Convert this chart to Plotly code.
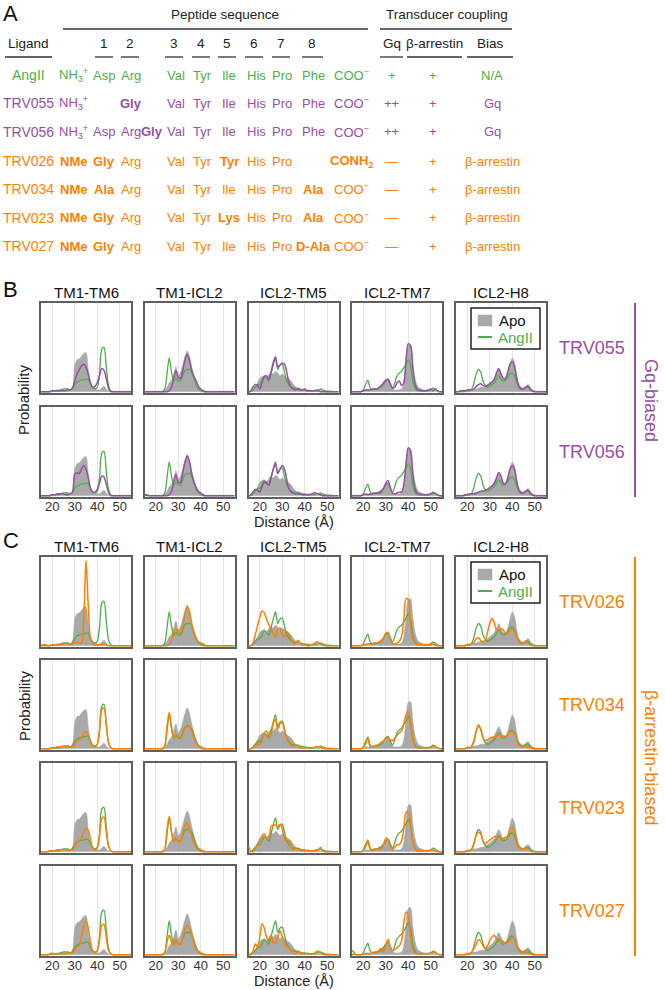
import plotly.graph_objects as go

# ---------------- data ----------------
DIST = list(range(15, 56))  # distance grid (Å)
COLUMNS = ["TM1-TM6", "TM1-ICL2", "ICL2-TM5", "ICL2-TM7", "ICL2-H8"]
TICKS = [20, 30, 40, 50]
B_LIGANDS = ["TRV055", "TRV056"]
C_LIGANDS = ["TRV026", "TRV034", "TRV023", "TRV027"]

# TM1-TM6
APO_TM1_TM6 = [0,0,0,0,1, 1,1,2,2,3, 1,2,2,2,5, 30,36,37,40,43, 44,25,10,5,3, 2,2,4,6,3, 1,0,0,0,0, 0,0,0,0,0, 0]
ANG_TM1_TM6 = [0,0,0,0,0, 1,1,1,1,2, 3,3,3,2,4, 8,11,12,13,13, 14,14,8,4,3, 5,20,48,50,28, 7,1,0,0,0, 0,0,0,0,0, 0]
T055_TM1_TM6 = [0,0,0,0,0, 1,1,1,1,1, 1,1,2,2,4, 12,20,25,29,31, 28,20,10,5,6, 10,18,26,24,15, 4,0,0,0,0, 0,0,0,0,0, 0]
T056_TM1_TM6 = [0,0,0,0,0, 1,1,2,2,2, 2,1,1,2,4, 24,26,25,30,34, 30,20,8,4,4, 7,14,22,21,13, 4,0,0,0,0, 0,0,0,0,0, 0]
T026_TM1_TM6 = [0,1,1,0,0, 1,1,1,1,1, 2,2,2,1,2, 3,4,3,3,30, 96,45,8,2,1, 1,1,1,2,1, 0,0,0,0,0, 0,0,0,0,0, 0]
T034_TM1_TM6 = [0,0,0,0,0, 1,1,2,2,2, 2,2,3,2,2, 3,9,10,13,17, 19,16,8,3,2, 5,20,44,46,27, 7,1,0,0,0, 0,0,0,0,0, 0]
T023_TM1_TM6 = [0,0,0,0,1, 1,1,2,2,2, 2,2,2,2,2, 6,11,12,16,22, 26,24,14,4,2, 4,18,37,39,23, 6,1,0,0,0, 0,0,0,0,0, 0]
T027_TM1_TM6 = [0,0,0,0,1, 2,1,1,1,1, 1,1,2,2,2, 5,9,10,20,33, 38,30,14,4,2, 4,16,33,34,20, 5,1,0,0,0, 0,0,0,0,0, 0]

# TM1-ICL2
APO_TM1_ICL2 = [0,0,0,0,0, 0,0,0,1,2, 5,10,13,20,28, 18,22,30,40,46, 40,28,18,10,5, 3,2,1,0,0, 0,0,0,0,0, 0,0,0,0,0, 0]
ANG_TM1_ICL2 = [0,0,0,0,0, 0,0,0,0,3, 20,38,22,12,15, 12,12,18,24,25, 25,22,15,7,3, 1,0,0,0,0, 0,0,0,0,0, 0,0,0,0,0, 0]
T055_TM1_ICL2 = [0,0,0,0,0, 0,0,0,0,0, 0,1,5,15,24, 16,15,24,36,42, 35,24,17,12,6, 3,1,0,0,0, 0,0,0,0,0, 0,0,0,0,0, 0]
T056_TM1_ICL2 = [1,1,0,0,0, 0,0,0,0,0, 0,1,5,15,24, 15,15,26,38,45, 38,24,15,9,5, 3,1,0,0,0, 0,0,0,0,0, 0,0,0,0,0, 0]
T026_TM1_ICL2 = [0,0,0,0,0, 0,0,0,0,0, 0,1,6,15,19, 15,14,22,35,44, 38,22,14,8,4, 3,2,0,0,0, 0,0,0,0,0, 0,0,0,0,0, 0]
T034_TM1_ICL2 = [0,0,0,0,0, 0,0,0,0,3, 25,41,25,13,15, 14,12,17,23,26, 25,20,12,6,3, 1,0,0,0,0, 0,0,0,0,0, 0,0,0,0,0, 0]
T023_TM1_ICL2 = [0,0,0,0,0, 0,0,0,0,3, 25,40,22,11,15, 11,12,20,30,32, 26,18,10,5,2, 1,0,0,0,0, 0,0,0,0,0, 0,0,0,0,0, 0]
T027_TM1_ICL2 = [0,0,0,0,0, 0,0,0,0,2, 14,22,15,11,17, 12,12,20,29,33, 30,22,13,6,3, 1,0,0,0,0, 0,0,0,0,0, 0,0,0,0,0, 0]

# ICL2-TM5
APO_ICL2_TM5 = [0,0,2,5,10, 15,17,18,16,19, 22,20,23,21,18, 20,18,16,14,12, 8,5,3,2,2, 2,2,2,1,1, 1,1,1,1,1, 1,1,1,0,0, 0]
ANG_ICL2_TM5 = [0,0,2,5,8, 8,12,17,15,12, 20,30,38,25,30, 31,22,12,8,5, 4,4,4,3,2, 2,1,1,1,1, 2,2,3,2,1, 0,0,0,0,0, 0]
T055_ICL2_TM5 = [0,1,5,8,7, 3,10,17,18,14, 22,33,39,28,30, 32,31,22,10,5, 3,2,3,2,2, 3,1,1,1,1, 1,1,0,0,0, 0,0,0,0,0, 0]
T056_ICL2_TM5 = [0,1,4,7,6, 4,10,15,14,12, 20,30,36,25,30, 34,30,18,8,4, 3,2,2,2,1, 1,1,1,2,3, 3,2,1,0,0, 0,0,0,0,0, 0]
T026_ICL2_TM5 = [0,0,3,12,22, 32,39,37,30,24, 18,14,10,18,20, 13,10,16,12,6, 2,3,6,3,1, 1,0,0,1,2, 4,4,2,1,0, 0,0,0,0,0, 0]
T034_ICL2_TM5 = [0,0,1,3,5, 5,10,18,20,13, 17,28,33,22,28, 30,20,12,7,4, 3,4,3,1,1, 1,1,1,1,1, 2,2,2,1,0, 0,0,0,0,0, 0]
T023_ICL2_TM5 = [6,1,0,3,8, 12,18,20,15,14, 28,30,30,28,31, 26,15,12,13,5, 2,4,2,1,1, 1,1,1,1,1, 1,2,5,1,0, 0,0,0,0,0, 0]
T027_ICL2_TM5 = [0,1,4,12,9, 20,35,30,20,16, 22,14,13,20,27, 20,12,10,7,4, 2,1,3,2,1, 1,1,1,1,1, 3,4,2,1,0, 0,0,0,0,0, 0]

# ICL2-TM7
APO_ICL2_TM7 = [0,0,0,0,0, 1,2,2,2,3, 3,3,5,7,9, 12,13,8,3,2, 2,2,3,10,33, 52,53,32,15,7, 4,3,2,2,2, 2,2,1,0,0, 0]
ANG_ICL2_TM7 = [0,0,0,0,0, 2,8,13,5,2, 3,3,4,5,8, 12,14,9,4,10, 18,21,23,27,31, 36,30,12,4,1, 1,1,1,1,1, 2,4,3,1,0, 0]
T055_ICL2_TM7 = [0,0,0,0,0, 1,2,2,2,3, 3,3,5,7,10, 13,14,9,4,5, 10,12,7,10,35, 54,52,28,9,3, 2,1,1,1,2, 3,1,3,1,0, 0]
T056_ICL2_TM7 = [0,0,0,0,0, 1,2,1,2,2, 3,3,3,4,8, 14,17,9,3,2, 3,4,4,12,36, 54,50,25,8,3, 2,1,1,1,1, 2,3,2,1,0, 0]
T026_ICL2_TM7 = [0,0,0,0,0, 1,1,2,2,2, 3,3,3,5,9, 14,15,8,2,2, 3,5,10,28,53, 52,25,8,3,2, 1,1,1,1,1, 1,2,1,0,0, 0]
T034_ICL2_TM7 = [0,0,0,0,0, 1,5,12,3,2, 3,4,5,7,9, 12,12,10,9,12, 15,18,20,28,38, 42,30,10,3,1, 1,1,1,1,1, 2,3,2,1,0, 0]
T023_ICL2_TM7 = [0,0,0,0,0, 1,5,12,3,1, 2,3,3,3,8, 15,14,6,3,5, 8,8,12,25,44, 45,33,12,3,1, 1,1,1,1,1, 2,2,1,0,0, 0]
T027_ICL2_TM7 = [5,2,0,0,0, 1,1,1,1,2, 2,3,5,7,3, 10,17,9,4,6, 8,10,15,35,48, 44,20,6,2,1, 1,1,1,1,1, 2,3,2,1,0, 0]

# ICL2-H8
APO_ICL2_H8 = [0,0,0,0,1, 2,2,3,3,3, 4,5,5,6,8, 10,12,15,20,25, 20,15,14,20,30, 38,33,18,8,5, 4,6,8,5,2, 1,0,0,0,0, 0]
ANG_ICL2_H8 = [0,0,0,0,0, 1,1,3,10,20, 25,22,12,7,5, 6,8,10,14,18, 14,12,13,16,20, 21,18,10,5,3, 3,5,5,2,1, 0,0,0,0,0, 0]
T055_ICL2_H8 = [0,0,1,1,1, 2,2,2,3,6, 8,9,7,6,7, 9,11,14,21,26, 20,15,15,22,31, 34,28,15,6,3, 3,5,6,3,1, 0,0,0,0,0, 0]
T056_ICL2_H8 = [0,0,0,0,1, 1,2,2,2,3, 4,5,5,6,7, 9,11,14,20,26, 22,14,14,20,30, 34,30,16,6,3, 3,5,6,3,1, 0,0,0,0,0, 0]
T026_ICL2_H8 = [0,0,0,0,0, 1,1,2,4,8, 9,6,4,6,15, 25,31,26,18,18, 19,18,14,14,18, 20,16,9,4,2, 3,5,3,1,0, 0,0,0,0,0, 0]
T034_ICL2_H8 = [0,0,0,0,0, 1,1,3,8,20, 27,22,12,9,10, 12,13,13,14,16, 14,14,14,16,19, 20,17,10,4,2, 2,3,2,1,0, 0,0,0,0,0, 0]
T023_ICL2_H8 = [0,0,0,0,0, 1,1,3,9,18, 22,20,12,9,11, 13,15,17,17,16, 15,15,16,18,25, 27,22,12,5,2, 3,4,3,1,0, 0,0,0,0,0, 0]
T027_ICL2_H8 = [0,0,0,0,0, 1,1,3,7,12, 17,15,10,7,10, 16,20,22,18,15, 16,15,13,14,17, 19,17,9,4,2, 2,3,2,1,0, 0,0,0,0,0, 0]

APO = [APO_TM1_TM6, APO_TM1_ICL2, APO_ICL2_TM5, APO_ICL2_TM7, APO_ICL2_H8]
ANGII = [ANG_TM1_TM6, ANG_TM1_ICL2, ANG_ICL2_TM5, ANG_ICL2_TM7, ANG_ICL2_H8]
LIGAND_SERIES = {
    "TRV055": [T055_TM1_TM6, T055_TM1_ICL2, T055_ICL2_TM5, T055_ICL2_TM7, T055_ICL2_H8],
    "TRV056": [T056_TM1_TM6, T056_TM1_ICL2, T056_ICL2_TM5, T056_ICL2_TM7, T056_ICL2_H8],
    "TRV026": [T026_TM1_TM6, T026_TM1_ICL2, T026_ICL2_TM5, T026_ICL2_TM7, T026_ICL2_H8],
    "TRV034": [T034_TM1_TM6, T034_TM1_ICL2, T034_ICL2_TM5, T034_ICL2_TM7, T034_ICL2_H8],
    "TRV023": [T023_TM1_TM6, T023_TM1_ICL2, T023_ICL2_TM5, T023_ICL2_TM7, T023_ICL2_H8],
    "TRV027": [T027_TM1_TM6, T027_TM1_ICL2, T027_ICL2_TM5, T027_ICL2_TM7, T027_ICL2_H8],
}
for s in APO + ANGII + [v for vv in LIGAND_SERIES.values() for v in vv]:
    assert len(s) == len(DIST)

# table (panel A)
T_LIGAND = ["AngII", "TRV055", "TRV056", "TRV026", "TRV034", "TRV023", "TRV027"]
T_NTERM = ["NH<sub>3</sub><sup>+</sup>"] * 3 + ["NMe"] * 4
T_P1 = ["Asp", "", "Asp", "Gly", "Ala", "Gly", "Gly"]
T_P2 = ["Arg", "Gly", "Arg", "Arg", "Arg", "Arg", "Arg"]
T_INS = ["", "", "Gly", "", "", "", ""]
T_P3 = ["Val"] * 7
T_P4 = ["Tyr"] * 7
T_P5 = ["Ile", "Ile", "Ile", "Tyr", "Ile", "Lys", "Ile"]
T_P6 = ["His"] * 7
T_P7 = ["Pro"] * 7
T_P8 = ["Phe", "Phe", "Phe", "", "Ala", "Ala", "D-Ala"]
T_CTERM = ["COO<sup>−</sup>"] * 3 + ["CONH<sub>2</sub>"] + ["COO<sup>−</sup>"] * 3
T_GQ = ["+", "++", "++", "—", "—", "—", "—"]
T_BARR = ["+"] * 7
T_BIAS = ["N/A", "Gq", "Gq", "β-arrestin", "β-arrestin", "β-arrestin", "β-arrestin"]

# ---------------- style / layout ----------------
W, H = 665, 990
GREEN, PURPLE, ORANGE, GRAY = "#4daf4a", "#984ea3", "#ff7f00", "#a9a9a9"
FRAME = "#5f5f5f"
FONT = "Liberation Sans, Arial, Helvetica, sans-serif"
ROW_COLORS = [GREEN, PURPLE, PURPLE, ORANGE, ORANGE, ORANGE, ORANGE]


def px(x):
    return x / W


def py(y):
    return 1 - y / H


COL_LEFT = [41, 144.5, 248.5, 352, 456]
PW, PH = 90, 90
ROWS_B = [303, 407]
ROWS_C = [557, 660, 763, 866]

fig = go.Figure()
annotations = []
shapes = []


def ann(text, x, y, size=14, color="#111", angle=0, xanchor="center", yanchor="middle"):
    annotations.append(dict(text=text, x=px(x), y=py(y), xref="paper", yref="paper",
                            showarrow=False, font=dict(size=size, color=color, family=FONT),
                            textangle=angle, xanchor=xanchor, yanchor=yanchor))


def hline(x0, x1, y, color="#333", width=1.3):
    shapes.append(dict(type="line", xref="paper", yref="paper", x0=px(x0), x1=px(x1),
                       y0=py(y), y1=py(y), line=dict(color=color, width=width)))


def vline(x, y0, y1, color, width=2):
    shapes.append(dict(type="line", xref="paper", yref="paper", x0=px(x), x1=px(x),
                       y0=py(y0), y1=py(y1), line=dict(color=color, width=width)))


def rect(x0, y0, x1, y1, line_color, fill, width=1.5):
    shapes.append(dict(type="rect", xref="paper", yref="paper", x0=px(x0), x1=px(x1),
                       y0=py(y1), y1=py(y0), line=dict(color=line_color, width=width),
                       fillcolor=fill, layer="above"))


def legend_box(top):
    # small key drawn in the ICL2-H8 panel of the first row of each block
    rect(471, top + 5, 540, top + 46, "#222", "white", 1.5)
    rect(478, top + 12, 492, top + 23, GRAY, GRAY, 0.5)
    hline(478, 492, top + 34, GREEN, 2)
    ann("Apo", 497, top + 17, size=15, color="#111", xanchor="left")
    ann("AngII", 496, top + 34, size=15, color=GREEN, xanchor="left")


axes = {}
k = 0
blocks = [(ROWS_B, B_LIGANDS, PURPLE), (ROWS_C, C_LIGANDS, ORANGE)]
for tops, ligs, color in blocks:
    for r, (top, lig) in enumerate(zip(tops, ligs)):
        last_row = r == len(tops) - 1
        for c in range(5):
            k += 1
            xa = "x" if k == 1 else f"x{k}"
            ya = "y" if k == 1 else f"y{k}"
            fig.add_trace(go.Scatter(
                x=DIST, y=APO[c], xaxis=xa, yaxis=ya, mode="lines", name="Apo",
                line=dict(color=GRAY, width=0.5, shape="spline", smoothing=0.9),
                fill="tozeroy", fillcolor=GRAY, showlegend=False, hoverinfo="skip"))
            fig.add_trace(go.Scatter(
                x=DIST, y=ANGII[c], xaxis=xa, yaxis=ya, mode="lines", name="AngII",
                line=dict(color=GREEN, width=1.3, shape="spline", smoothing=0.9),
                showlegend=False, hoverinfo="skip"))
            fig.add_trace(go.Scatter(
                x=DIST, y=LIGAND_SERIES[lig][c], xaxis=xa, yaxis=ya, mode="lines",
                name=lig, line=dict(color=color, width=1.5, shape="spline", smoothing=0.9),
                showlegend=False, hoverinfo="skip"))
            x0 = COL_LEFT[c]
            axes["xaxis" if k == 1 else f"xaxis{k}"] = dict(
                domain=[px(x0), px(x0 + PW)], anchor=ya, range=[15, 55],
                tickvals=TICKS, ticktext=[str(t) for t in TICKS], showticklabels=last_row,
                ticks="", tickfont=dict(size=13, color="#333"), ticklabelstandoff=-3,
                showgrid=True, gridcolor="#e4e4e4", gridwidth=1, zeroline=False,
                showline=True, mirror=True, linecolor=FRAME, linewidth=1.5, layer="below traces")
            axes["yaxis" if k == 1 else f"yaxis{k}"] = dict(
                domain=[py(top + PH), py(top)], anchor=xa, range=[-1.5, 100],
                showticklabels=False, ticks="", showgrid=False, zeroline=False,
                showline=True, mirror=True, linecolor=FRAME, linewidth=1.5, layer="below traces")
        ann(lig, 592, top + PH / 2, size=18, color=color)
    for c, name in enumerate(COLUMNS):
        ann(name, COL_LEFT[c] + PW / 2, tops[0] - 11, size=15, color="#111")
    bottom = tops[-1] + PH
    ann("Distance (Å)", COL_LEFT[2] + PW / 2, bottom + 25, size=14.5, color="#222")
    vline(635, tops[0], bottom, color)
    legend_box(tops[0])

ann("Probability", 24, 400, size=15, color="#222", angle=-90)
ann("Probability", 24, 706, size=15, color="#222", angle=-90)
ann("Gq-biased", 651, 400, size=18, color=PURPLE, angle=90)
ann("β-arrestin-biased", 651, 757, size=18, color=ORANGE, angle=90)

# panel letters
ann("A", 10, 14, size=22, color="#111")
ann("B", 10, 289, size=22, color="#111")
ann("C", 11, 540, size=22, color="#111")

# ---------- panel A table ----------
ann("Peptide sequence", 225, 15, size=13.5, color="#222")
hline(63, 368, 29)
ann("Transducer coupling", 447, 15, size=13.5, color="#222")
hline(380, 512, 29)

HEAD_Y, HEAD_LINE_Y = 44, 57
headers = [("Ligand", 28, 5, 52), ("1", 104, 95, 113), ("2", 130, 121, 139), ("3", 174, 165, 183),
           ("4", 201, 192, 210), ("5", 227, 218, 236), ("6", 254, 245, 263), ("7", 281, 272, 290),
           ("8", 312, 302, 323), ("Gq", 392, 380, 403), ("β-arrestin", 434, 407, 462),
           ("Bias", 490, 467, 513)]
for txt, cx, l, rgt in headers:
    ann(txt, cx, HEAD_Y, size=13.5, color="#222")
    hline(l, rgt, HEAD_LINE_Y)

ROW_Y = [75, 103, 132, 161, 189, 218, 246]
cols = [(T_NTERM, 73), (T_P1, 104), (T_P2, 131), (T_INS, 152), (T_P3, 176), (T_P4, 202),
        (T_P5, 229), (T_P6, 256), (T_P7, 282), (T_P8, 313), (T_CTERM, 352)]
TSIZE = 13
for i, lig in enumerate(T_LIGAND):
    col = ROW_COLORS[i]
    y = ROW_Y[i]
    ann(lig, 28, y, size=14, color=col)
    for values, cx in cols:
        v = values[i]
        if not v:
            continue
        bold = v != values[0]
        ann(f"<b>{v}</b>" if bold else v, cx, y, size=TSIZE, color=col)
    ann(T_GQ[i], 392, y, size=TSIZE, color=col)
    ann(T_BARR[i], 433, y, size=TSIZE, color=col)
    ann(T_BIAS[i], 492, y, size=TSIZE, color=col)

fig.update_layout(
    width=W, height=H, margin=dict(l=0, r=0, t=0, b=0),
    paper_bgcolor="white", plot_bgcolor="white",
    font=dict(family=FONT, color="#222"),
    annotations=annotations, shapes=shapes, showlegend=False,
    **axes,
)

fig.write_html("out.html", config={"displayModeBar": False},
               post_script="document.body.style.margin='0';")
